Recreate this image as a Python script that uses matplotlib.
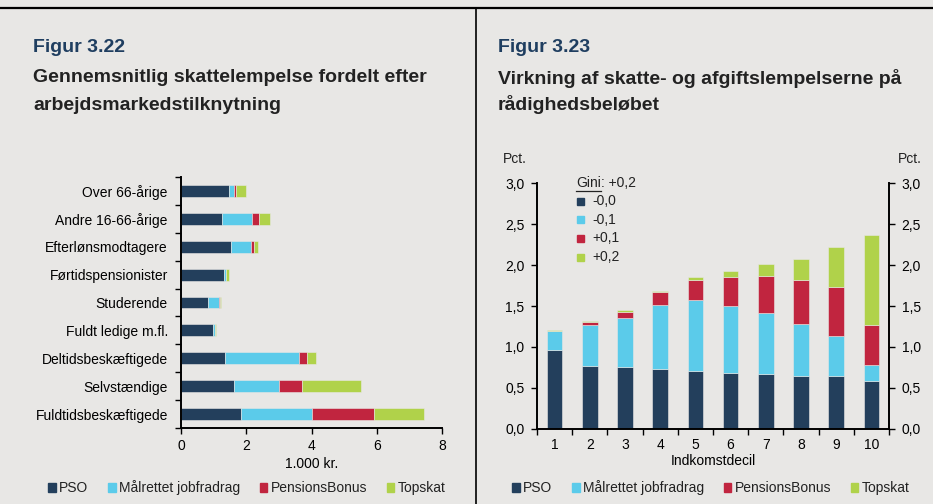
import matplotlib.pyplot as plt
import matplotlib.patches as mpatches
from matplotlib.lines import Line2D
import numpy as np

# --- data: figur 3.22, 1.000 kr. per person
groups = ["Fuldtidsbeskæftigede", "Selvstændige", "Deltidsbeskæftigede",
          "Fuldt ledige m.fl.", "Studerende", "Førtidspensionister",
          "Efterlønsmodtagere", "Andre 16-66-årige", "Over 66-årige"]
grp_pso = [1.83, 1.62, 1.34, 0.99, 0.83, 1.33, 1.52, 1.26, 1.48]
grp_job = [2.20, 1.37, 2.28, 0.05, 0.35, 0.04, 0.62, 0.93, 0.15]
grp_pension = [1.88, 0.72, 0.25, 0.01, 0.01, 0.01, 0.10, 0.20, 0.06]
grp_top = [1.55, 1.82, 0.28, 0.03, 0.04, 0.09, 0.12, 0.33, 0.30]

# --- data: figur 3.23, pct. af rådighedsbeløb per indkomstdecil
deciles = [1, 2, 3, 4, 5, 6, 7, 8, 9, 10]
dec_pso = [0.96, 0.77, 0.76, 0.73, 0.71, 0.68, 0.67, 0.65, 0.64, 0.58]
dec_job = [0.23, 0.50, 0.59, 0.78, 0.86, 0.82, 0.74, 0.63, 0.49, 0.20]
dec_pension = [0.01, 0.04, 0.08, 0.16, 0.25, 0.36, 0.46, 0.54, 0.60, 0.49]
dec_top = [0.01, 0.005, 0.02, 0.01, 0.04, 0.07, 0.14, 0.26, 0.49, 1.10]

series_names = ["PSO", "Målrettet jobfradrag", "PensionsBonus", "Topskat"]
gini_labels = ["-0,0", "-0,1", "+0,1", "+0,2"]
gini_total = "+0,2"

colors = ["#233f5c", "#5bcbea", "#c1253f", "#b0d24a"]
bg = "#e8e7e5"
title_blue = "#1f3e60"
txt = "#222222"

plt.rcParams["font.family"] = ["Liberation Sans", "DejaVu Sans"]
plt.rcParams["text.color"] = txt
fs = 10

W, H = 933, 504
fig = plt.figure(figsize=(W / 100, H / 100), dpi=100, facecolor=bg)


def fx(px):
    return px / W


def fy(py):
    return 1 - py / H


# frame lines
fig.add_artist(Line2D([0, 1], [fy(8), fy(8)], color="black", lw=1.6))
fig.add_artist(Line2D([fx(476), fx(476)], [fy(8), 0], color="black", lw=1.2))

# headings
for x0, num, lines in [(33, "Figur 3.22", ["Gennemsnitlig skattelempelse fordelt efter",
                                           "arbejdsmarkedstilknytning"]),
                       (498, "Figur 3.23", ["Virkning af skatte- og afgiftslempelserne på",
                                            "rådighedsbeløbet"])]:
    fig.text(fx(x0), fy(48), num, color=title_blue, fontsize=14, fontweight="bold",
             va="center", ha="left")
    for i, ln in enumerate(lines):
        fig.text(fx(x0), fy(78 + 27 * i), ln, color=txt, fontsize=14,
                 fontweight="bold", va="center", ha="left")

# ---------------- left chart: horizontal stacked bars
ax1 = fig.add_axes([fx(181), fy(428), fx(442 - 181), (428 - 177) / H])
ax1.set_facecolor(bg)
y = np.arange(len(groups))
left = np.zeros(len(groups))
for vals, c in zip([grp_pso, grp_job, grp_pension, grp_top], colors):
    ax1.barh(y, vals, left=left, height=0.43, color=c, edgecolor=bg, linewidth=0.4)
    left += np.array(vals)
ax1.set_xlim(0, 8)
ax1.set_ylim(-0.5, len(groups) - 0.5)
ax1.set_xticks([0, 2, 4, 6, 8])
ax1.set_yticks(y)
ax1.set_yticklabels(groups)
ax1.set_yticks(np.arange(-0.5, len(groups)), minor=True)
ax1.tick_params(axis="y", which="major", length=0, pad=9.5, labelsize=fs)
ax1.tick_params(axis="y", which="minor", length=4, width=1, direction="out")
ax1.tick_params(axis="x", length=4, width=1, direction="out", labelsize=fs, pad=4)
for s in ["top", "right"]:
    ax1.spines[s].set_visible(False)
for s in ["left", "bottom"]:
    ax1.spines[s].set_linewidth(1.4)
ax1.set_xlabel("1.000 kr.", fontsize=fs, labelpad=3)

# ---------------- right chart: vertical stacked bars
ax2 = fig.add_axes([fx(537), fy(428.7), fx(889 - 537), (428.7 - 183.3) / H])
ax2.set_facecolor(bg)
bottom = np.zeros(len(deciles))
for vals, c in zip([dec_pso, dec_job, dec_pension, dec_top], colors):
    ax2.bar(deciles, vals, bottom=bottom, width=0.44, color=c, edgecolor=bg, linewidth=0.4)
    bottom += np.array(vals)
ax2.set_xlim(0.5, 10.5)
ax2.set_ylim(0, 3)
yt = np.arange(0, 3.01, 0.5)
ax2.set_yticks(yt)
ax2.set_yticklabels([f"{v:.1f}".replace(".", ",") for v in yt])
ax2.set_xticks(deciles)
ax2.set_xticks(np.arange(0.5, 10.6, 1), minor=True)
ax2.tick_params(axis="x", which="major", length=0, labelsize=fs, pad=7)
ax2.tick_params(axis="x", which="minor", length=4, width=1, direction="out")
ax2.tick_params(axis="y", length=4, width=1, direction="out", labelsize=fs,
                right=True, labelright=True, pad=5)
ax2.spines["top"].set_visible(False)
for s in ["left", "right", "bottom"]:
    ax2.spines[s].set_linewidth(1.4)
ax2.set_xlabel("Indkomstdecil", fontsize=fs, labelpad=1)
fig.text(fx(515), fy(159), "Pct.", fontsize=fs, ha="center", va="center")
fig.text(fx(910), fy(159), "Pct.", fontsize=fs, ha="center", va="center")

# Gini legend inside the right chart
gx, gy = fx(576), fy(183)
t_gini = fig.text(gx, gy, "Gini", fontsize=fs, va="center", ha="left")
fig.canvas.draw()
bb = t_gini.get_window_extent()
fig.text(bb.x1 / W, gy, f": {gini_total}", fontsize=fs, va="center", ha="left")
fig.add_artist(Line2D([bb.x0 / W, bb.x1 / W], [fy(190.5), fy(190.5)], color=txt, lw=0.9))
for i, (lab, c) in enumerate(zip(gini_labels, colors)):
    ry = 201 + 18.7 * i
    fig.add_artist(mpatches.Rectangle((fx(577), fy(ry + 3.5)), 7 / W, 7 / H,
                                      color=c, transform=fig.transFigure))
    fig.text(fx(592), fy(ry), lab, fontsize=fs, va="center", ha="left")

# bottom legends
handles = [mpatches.Patch(color=c) for c in colors]
for cx in [247, 711]:
    fig.legend(handles, series_names, loc="center", bbox_to_anchor=(fx(cx), fy(488)),
               ncol=4, frameon=False, handlelength=0.55, handleheight=0.6,
               handletextpad=0.25, columnspacing=1.4,
               prop={"size": fs})

fig.savefig("out.png", dpi=100, facecolor=bg)
